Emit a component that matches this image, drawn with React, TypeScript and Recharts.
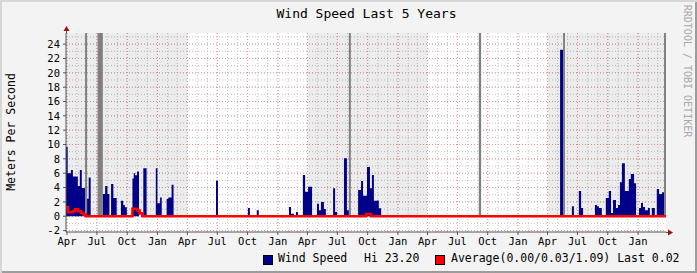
import React from "react";
import {
  ComposedChart,
  Area,
  Line,
  XAxis,
  YAxis,
  ReferenceArea,
  CartesianGrid,
} from "recharts";

// ---- data (x = days since 1 Apr of first year) ----
const speedDays = [
  -3, 2, 12, 18, 33, 39, 45, 55, 61, 66, 72, 109, 116, 123, 129, 134, 141, 151,
  164, 171, 176, 182, 199, 203, 207, 213, 219, 232, 242, 270, 275, 283, 288,
  303, 308, 318, 324, 453, 459, 550, 556, 577, 583, 675, 681, 690, 696, 702,
  717, 724, 733, 745, 760, 766, 772, 781, 787, 809, 815, 821, 842, 851, 857,
  885, 894, 900, 912, 921, 927, 933, 942, 948, 955, 1499, 1508, 1535, 1541,
  1556, 1563, 1569, 1605, 1611, 1617, 1626, 1638, 1647, 1654, 1660, 1669, 1675,
  1681, 1687, 1696, 1708, 1714, 1724, 1730, 1739, 1745, 1751, 1757, 1766, 1772,
  1778, 1787, 1793, 1800, 1809, 1815, 1821,
];
const speedValues = [
  9.7, 6.0, 6.45, 5.55, 4.2, 6.45, 3.95, 0, 2.45, 5.4, 0, 3.1, 4.2, 3.1, 0, 4.5,
  2.55, 0, 2.15, 1.55, 1.25, 0, 5.25, 6.0, 5.7, 6.25, 0, 6.7, 0, 6.7, 1.8, 2.6,
  0, 2.4, 2.6, 4.4, 0, 4.95, 0, 1.15, 0, 0.85, 0, 1.3, 0.35, 0, 0.6, 0, 5.75,
  3.4, 4.1, 0, 1.75, 0.85, 2.0, 1.0, 0, 3.9, 0.6, 0, 8.1, 0.85, 0, 3.65, 4.9,
  2.85, 6.85, 3.9, 5.75, 2.15, 2.2, 1.1, 0, 23.2, 0, 1.4, 0, 3.5, 1.15, 0, 1.55,
  1.4, 1.15, 0, 2.55, 3.5, 0.45, 2.25, 1.15, 1.55, 4.75, 7.4, 3.5, 5.2, 5.9,
  4.6, 0, 1.15, 1.85, 1.3, 0.85, 1.15, 0, 1.15, 0, 3.8, 3.1, 3.35, 0, 0,
];
const avgDays = [-3, 3, 18, 24, 34, 42, 50, 57, 199, 213, 221, 229, 909, 924, 1821];
const avgValues = [1.25, 0.55, 0.7, 0.95, 0.7, 0.45, 0.25, 0, 1.05, 0.8, 0.4, 0, 0.3, 0, 0];

// unknown-data periods (drawn from 0 to the top)
const unknownStart = [55, 93, 857, 1252, 1508, 1815];
const unknownEnd = [61, 109, 863, 1259, 1514, 1821];

// alternating-year shading (from 0 up to the top)
const shadeDays = [-3, 366, 731, 1096, 1461, 1821];
const shadeOn = [1, 0, 1, 0, 1, 1];

const tickDates = [
  "2019-04-01", "2019-07-01", "2019-10-01", "2020-01-01",
  "2020-04-01", "2020-07-01", "2020-10-01", "2021-01-01",
  "2021-04-01", "2021-07-01", "2021-10-01", "2022-01-01",
  "2022-04-01", "2022-07-01", "2022-10-01", "2023-01-01",
  "2023-04-01", "2023-07-01", "2023-10-01", "2024-01-01",
];
const tickLabels = [
  "Apr", "Jul", "Oct", "Jan", "Apr", "Jul", "Oct", "Jan", "Apr", "Jul",
  "Oct", "Jan", "Apr", "Jul", "Oct", "Jan", "Apr", "Jul", "Oct", "Jan",
];
const yTicks = [-2, 0, 2, 4, 6, 8, 10, 12, 14, 16, 18, 20, 22, 24];

const title = "Wind Speed Last 5 Years";
const yTitle = "Meters Per Second";
const watermark = "RRDTOOL / TOBI OETIKER";
const legendSpeed = "Wind Speed";
const legendHi = "Hi 23.20";
const legendAvg = "Average(0.00/0.03/1.09) Last 0.02";

// ---- derived ----
const X0 = -3;
const X1 = 1821;
const YMIN = -2.2;
const YMAX = 25.55;
const START = Date.UTC(2019, 3, 1);
const dayOf = (s: string) => Math.round((Date.parse(s + "T00:00:00Z") - START) / 86400000);
const tickDays = tickDates.map(dayOf);
const labelByDay: Record<number, string> = {};
tickDays.forEach((d, i) => (labelByDay[d] = tickLabels[i]));
const monthDays: number[] = [];
for (let y = 2019; y <= 2024; y++) {
  for (let m = 0; m < 12; m++) {
    const d = Math.round((Date.UTC(y, m, 1) - START) / 86400000);
    if (d >= X0 && d <= X1) monthDays.push(d);
  }
}
const minorY: number[] = [];
for (let v = -2; v <= 25; v++) minorY.push(v);

const speedData = speedDays.map((d, i) => ({ d, v: speedValues[i] }));
const avgData = avgDays.map((d, i) => ({ d, a: avgValues[i] }));
const shadeData = shadeDays.map((d, i) => ({ d, s: shadeOn[i] ? YMAX : 0 }));

const FONT = '"DejaVu Sans Mono", monospace';

export default function App() {
  return (
    <div
      style={{
        position: "absolute",
        left: 0,
        top: 0,
        width: 697,
        height: 273,
        background: "#f3f3f3",
        boxShadow: "inset 2px 2px 0 #d6d6d6, inset -2px -2px 0 #9c9c9c",
        fontFamily: FONT,
        overflow: "hidden",
      }}
    >
      <div style={{ position: "absolute", left: 0, top: 0 }}>
        <ComposedChart
          width={697}
          height={273}
          margin={{ top: 33, right: 31, bottom: 21, left: 0 }}
        >
          <CartesianGrid
            fill="#ffffff"
            horizontalValues={minorY}
            verticalValues={monthDays}
            stroke="#c4c4c4"
            strokeDasharray="1 2"
          />
          <CartesianGrid
            horizontalValues={yTicks}
            verticalValues={tickDays}
            stroke="#e09a9a"
            strokeDasharray="1 2"
          />
          <XAxis
            type="number"
            dataKey="d"
            domain={[X0, X1]}
            allowDataOverflow
            ticks={tickDays}
            interval={0}
            tickFormatter={(v: number) => labelByDay[v] ?? ""}
            height={20}
            tickSize={3}
            tickMargin={3}
            stroke="#555"
            tick={{ fill: "#000", fontSize: 10.5, fontFamily: FONT }}
          />
          <YAxis
            type="number"
            domain={[YMIN, YMAX]}
            allowDataOverflow
            ticks={yTicks}
            interval={0}
            width={66}
            tickSize={3}
            tickMargin={3}
            stroke="#555"
            tick={{ fill: "#000", fontSize: 10.5, fontFamily: FONT }}
          />
          <Area
            data={shadeData}
            dataKey="s"
            type="stepAfter"
            baseValue={0}
            fill="#000000"
            fillOpacity={0.075}
            stroke="none"
            isAnimationActive={false}
            dot={false}
            activeDot={false}
          />
          <Area
            data={speedData}
            dataKey="v"
            type="stepAfter"
            baseValue={0}
            fill="#000088"
            fillOpacity={1}
            stroke="none"
            isAnimationActive={false}
            dot={false}
            activeDot={false}
          />
          <Line
            data={avgData}
            dataKey="a"
            type="stepAfter"
            stroke="#ff0000"
            strokeWidth={2.6}
            dot={false}
            activeDot={false}
            isAnimationActive={false}
          />
          {unknownStart.map((s, i) => (
            <ReferenceArea
              key={"un" + i}
              x1={s}
              x2={unknownEnd[i]}
              y1={0}
              y2={YMAX}
              fill="#808080"
              fillOpacity={1}
              stroke="none"
            />
          ))}
        </ComposedChart>
      </div>
      {/* axis arrows */}
      <svg
        width={697}
        height={273}
        style={{ position: "absolute", left: 0, top: 0, pointerEvents: "none" }}
      >
        <line x1={666} y1={232.5} x2={670} y2={232.5} stroke="#555" />
        <line x1={66.5} y1={33} x2={66.5} y2={29} stroke="#555" />
        <polygon points="668,229.5 673,232.5 668,235.5" fill="#a01010" />
        <polygon points="63.5,31 66.5,26 69.5,31" fill="#a01010" />
      </svg>
      <div
        style={{
          position: "absolute",
          left: 0,
          width: 733,
          top: 6,
          textAlign: "center",
          fontSize: 13,
          color: "#000",
          whiteSpace: "pre",
        }}
      >
        {title}
      </div>
      <div
        style={{
          position: "absolute",
          left: 11,
          top: 132,
          transform: "translate(-50%,-50%) rotate(-90deg)",
          fontSize: 11.5,
          whiteSpace: "pre",
          color: "#000",
        }}
      >
        {yTitle}
      </div>
      <div
        style={{
          position: "absolute",
          left: 687,
          top: 71,
          transform: "translate(-50%,-50%) rotate(90deg)",
          fontSize: 10,
          whiteSpace: "pre",
          color: "#a8a8a8",
        }}
      >
        {watermark}
      </div>
      {/* legend */}
      <div
        style={{
          position: "absolute",
          left: 263,
          top: 255,
          width: 8,
          height: 8,
          background: "#000088",
          border: "1px solid #000",
        }}
      />
      <div style={{ position: "absolute", left: 278, top: 251, fontSize: 11.5, whiteSpace: "pre" }}>
        {legendSpeed}
      </div>
      <div style={{ position: "absolute", left: 364, top: 251, fontSize: 11.5, whiteSpace: "pre" }}>
        {legendHi}
      </div>
      <div
        style={{
          position: "absolute",
          left: 435,
          top: 255,
          width: 8,
          height: 8,
          background: "#ff0000",
          border: "1px solid #000",
        }}
      />
      <div style={{ position: "absolute", left: 451, top: 251, fontSize: 11.5, whiteSpace: "pre" }}>
        {legendAvg}
      </div>
    </div>
  );
}
